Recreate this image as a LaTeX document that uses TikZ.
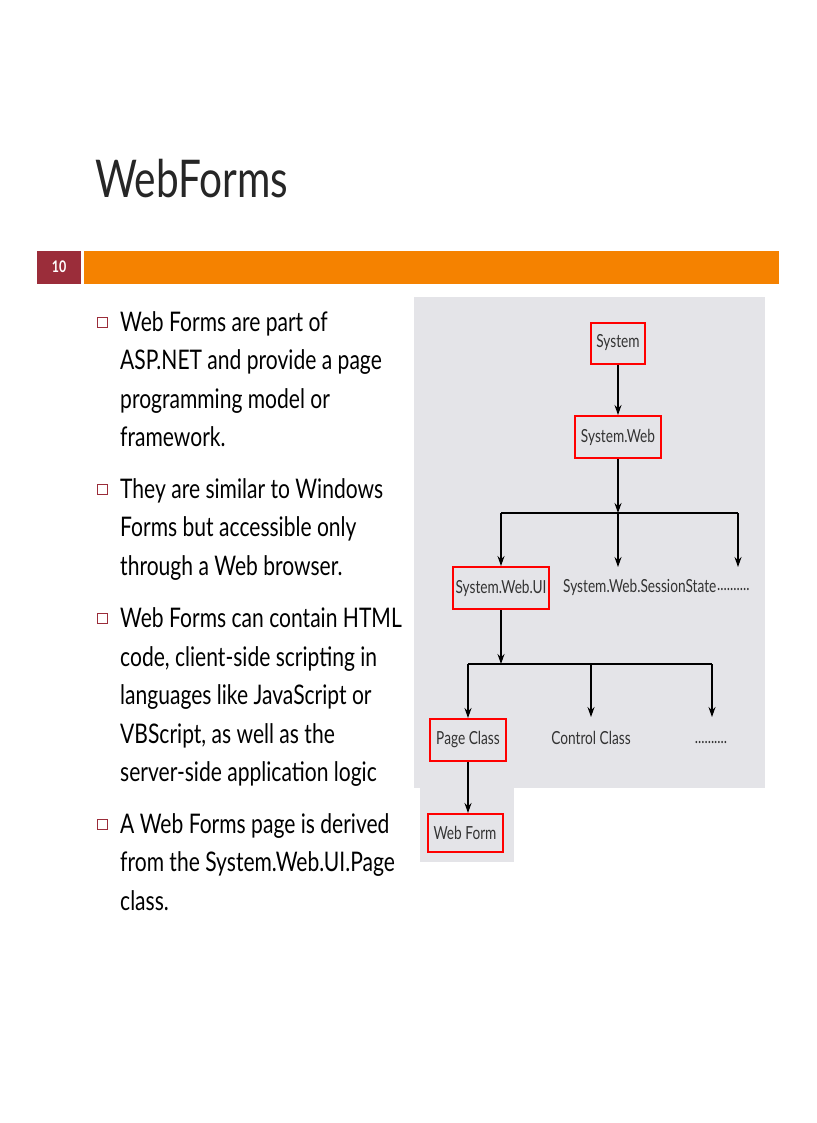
\documentclass[tikz,border=0pt]{standalone}
\usepackage{fontspec}
\setmainfont[FakeStretch=0.78]{Lato}
\newfontfamily\diagfont[FakeStretch=0.76]{Lato}
\usetikzlibrary{arrows.meta}
\definecolor{barorange}{HTML}{F58200}
\definecolor{numred}{HTML}{9B2D3A}
\definecolor{diagbg}{HTML}{E4E4E8}
\tikzset{
  redbox/.style={draw=red, line width=2pt, fill=diagbg, inner sep=0pt, font=\diagfont\fontsize{18}{18}\selectfont, text=black!80},
  plain/.style={inner sep=0pt, font=\diagfont\fontsize{18}{18}\selectfont, text=black!80},
  conn/.style={line width=1.1pt, -{Stealth[length=10pt,width=7pt]}},
  bline/.style={line width=1.3pt},
  bul/.style={draw=numred, line width=0.7pt, minimum size=10pt, inner sep=0pt},
  btext/.style={anchor=base west, inner sep=0pt, font=\fontsize{27}{27}\selectfont}
}
\begin{document}
\begin{tikzpicture}[x=1pt,y=-1pt]
\useasboundingbox (0,0) rectangle (816,1123);
\node[anchor=base west, inner sep=0pt, font=\fontsize{52}{52}\selectfont, text=black!85] (title) at (95,198) {WebForms};
\fill[numred] (37,251) rectangle (81,284);
\node[text=white, font=\fontsize{16}{16}\selectfont\bfseries] (num) at (59,267) {10};
\fill[barorange] (84,251) rectangle (779,284);
\foreach \y/\t [count=\i] in {
 322/Web Forms are part of, 360/ASP.NET and provide a page, 399/programming model or, 437/framework.,
 489/They are similar to Windows, 527/Forms but accessible only, 566/through a Web browser.,
 618/Web Forms can contain HTML, 657/{code, client-side scripting in}, 695/languages like JavaScript or, 734/{VBScript, as well as the}, 772/server-side application logic,
 824/A Web Forms page is derived, 862/from the System.Web.UI.Page, 901/class.}
 { \node[btext] (t\i) at (120,\y+9) {\t}; }
\foreach \y [count=\i] in {322,489,618,824} { \node[bul] (b\i) at (102,\y) {}; }
% diagram
\fill[diagbg] (414,297) rectangle (765,788);
\fill[diagbg] (420,788) rectangle (514,862);
\node[redbox, minimum width=54pt, minimum height=41pt] (sys) at (618,343) {System};
\node[redbox, minimum width=86pt, minimum height=42pt] (web) at (618,437) {System.Web};
\node[redbox, minimum width=96pt, minimum height=42pt] (ui) at (501,588) {System.Web.UI};
\node[plain, anchor=west] (sess) at (563,587) {System.Web.SessionState};
\node[plain, anchor=west] (dots1) at (717,589) {..........};
\node[redbox, minimum width=76pt, minimum height=42pt] (page) at (468,740) {Page Class};
\node[plain] (ctrl) at (591,738) {Control Class};
\node[plain] (dots2) at (711,742) {..........};
\node[redbox, minimum width=75pt, minimum height=38pt] (form) at (465,833) {Web Form};
\coordinate (j1) at (618,513);
\coordinate (j2) at (501,664);
\draw[conn] (sys) -- (web);
\draw[conn] (web) -- (j1);
\draw[bline] (501,513) -- (738,513);
\draw[conn] (501,513) -- (ui.north);
\draw[conn] (j1) -- (618,567);
\draw[conn] (738,513) -- (738,567);
\draw[conn] (ui) -- (j2);
\draw[bline] (468,664) -- (712,664);
\draw[conn] (468,664) -- (page.north);
\draw[conn] (591,664) -- (591,717);
\draw[conn] (712,664) -- (712,717);
\draw[conn] (page.south) -- (page.south |- form.north);
\end{tikzpicture}
\end{document}
